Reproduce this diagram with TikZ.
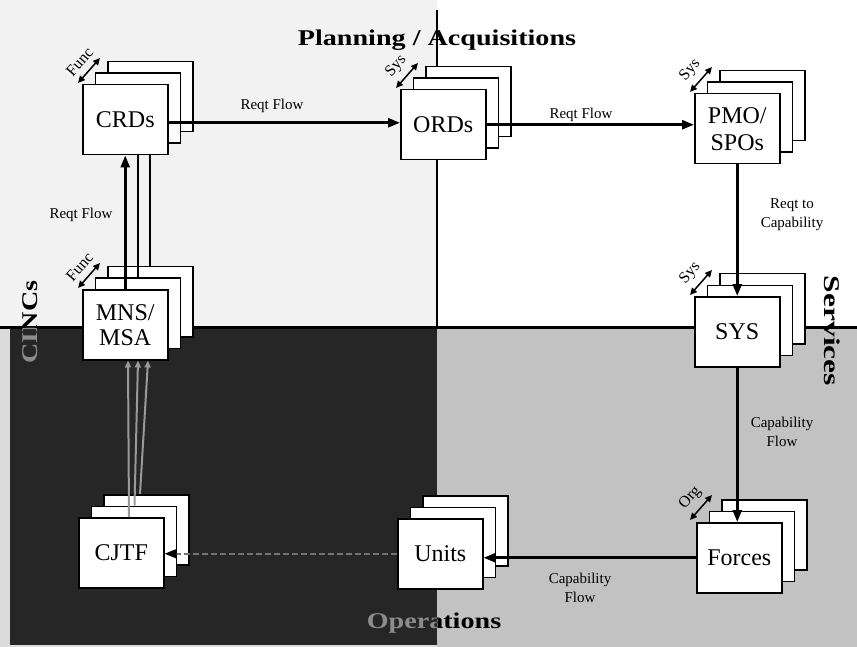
\documentclass[tikz,border=0pt]{standalone}
\usepackage{fontspec}
\setmainfont{Liberation Serif}
\usepackage{graphicx}
\usetikzlibrary{arrows.meta,calc}
\tikzset{
  sbox/.style={draw=black, fill=white, line width=1.5pt, minimum width=85pt, minimum height=70pt, inner sep=0pt, anchor=north west, align=center},
  boxtext/.style={font=\fontsize{24}{29}\selectfont},
  flow/.style={line width=2.6pt, -{Triangle[length=12pt,width=9pt]}},
  link/.style={line width=2pt},
  dbl/.style={line width=1.5pt, {Triangle[length=7pt,width=6.5pt]}-{Triangle[length=7pt,width=6.5pt]}},
  lab/.style={font=\fontsize{15}{19}\selectfont, align=center, inner sep=1pt},
  slab/.style={font=\fontsize{16}{19}\selectfont, inner sep=0.5pt},
  ttl/.style={font=\bfseries\fontsize{22.5}{26}\selectfont, inner sep=0pt},
}
\newcommand\stackednode[4]{%
  \node[sbox] (#1b) at (#2+25,#3-23) {};
  \node[sbox] (#1m) at (#2+12.5,#3-11.5) {};
  \node[sbox,boxtext] (#1) at (#2,#3) {#4};}
\begin{document}
\begin{tikzpicture}[x=1pt,y=-1pt]
\useasboundingbox (0,0) rectangle (857,647);
% quadrants
\fill[black!5] (0,0) rectangle (437,327);
\fill[white] (437,0) rectangle (857,327);
\fill[black!14] (0,327) rectangle (10,647);
\fill[black!85] (10,327) rectangle (437,645);
\fill[black!14] (10,645) rectangle (437,647);
\fill[black!24] (437,327) rectangle (857,647);
\draw[line width=2pt] (437,10) -- (437,327);
\draw[line width=3pt] (0,327) -- (857,327);

% titles
\node[ttl] (tplan) at (437,40) {\scalebox{1.25}[1]{Planning / Acquisitions}};
\node[ttl, rotate=-90] (tserv) at (832,331) {\scalebox{1.4}[1]{Services}};
\begin{scope}
  \clip (0,327) rectangle (437,647);
  \node[ttl, text=black!45] (topsa) at (434,623) {\scalebox{1.25}[1]{Operations}};
  \node[ttl, text=black!45, rotate=90] (tcincsa) at (30,322) {\scalebox{1.25}[1]{CINCs}};
\end{scope}
\begin{scope}
  \clip (437,327) rectangle (857,647);
  \node[ttl] (topsb) at (434,623) {\scalebox{1.25}[1]{Operations}};
\end{scope}
\begin{scope}
  \clip (0,0) rectangle (437,327);
  \node[ttl, rotate=90] (tcincsb) at (30,322) {\scalebox{1.25}[1]{CINCs}};
\end{scope}

% stacked boxes
\stackednode{CRDs}{82}{84}{CRDs}
\stackednode{ORDs}{400}{89}{ORDs}
\stackednode{PMO}{694}{93}{PMO/\\[-2pt]SPOs}
\stackednode{SYS}{694}{296}{SYS}
\stackednode{MNS}{82}{289}{MNS/\\[-4pt]MSA}
\stackednode{CJTF}{78}{517}{CJTF}
\stackednode{Units}{397}{518}{Units}
\stackednode{Forces}{696}{522}{Forces}

% flows
\draw[flow] ([yshift=-3pt]CRDs.east) -- ([yshift=-3pt]CRDs.east -| ORDs.west);
\draw[flow] (ORDs.east) -- (ORDs.east -| PMO.west);
\draw[flow] (PMO.south) -- (SYS.north);
\draw[flow] (SYS.south) -- (SYS.south |- Forces.north);
\draw[flow] (Forces.west) -- (Forces.west -| Units.east);
\draw[line width=2pt, black!55, dash pattern=on 6pt off 3pt, -{Triangle[length=12pt,width=9pt,color=black]}] (Units.west) -- (Units.west -| CJTF.east);

% MNS -> CRDs
\draw[flow] (MNS.north) -- (MNS.north |- CRDs.south);
\draw[link] (MNSm.north) -- (MNSm.north |- CRDs.south);
\draw[link] (MNSb.north) -- (MNSb.north |- CRDs.south);

% CJTF -> MNS
\draw[line width=2pt, black!40, -{Triangle[length=7pt,width=6pt]}] ($(CJTF.north west)+(51,0)$) -- ($(MNS.south west)+(46,0)$);
\draw[line width=2pt, black!40, -{Triangle[length=7pt,width=6pt]}] ($(CJTFm.north west)+(44,0)$) -- ($(MNS.south west)+(56,0)$);
\draw[line width=2pt, black!40, -{Triangle[length=7pt,width=6pt]}] ($(CJTFb.north west)+(37,0)$) -- ($(MNS.south west)+(66,0)$);

% double arrows
\draw[dbl] ($(CRDs.north west)+(-4,-1)$) -- ($(CRDs.north west)+(18,-26)$) node[midway, sloped, above=6pt, slab] (lfunc1) {Func};
\draw[dbl] ($(ORDs.north west)+(-4,-1)$) -- ($(ORDs.north west)+(18,-26)$) node[midway, sloped, above=6pt, slab] (lsys1) {Sys};
\draw[dbl] ($(PMO.north west)+(-4,-1)$) -- ($(PMO.north west)+(18,-26)$) node[midway, sloped, above=6pt, slab] (lsys2) {Sys};
\draw[dbl] ($(MNS.north west)+(-4,-1)$) -- ($(MNS.north west)+(18,-26)$) node[midway, sloped, above=6pt, slab] (lfunc2) {Func};
\draw[dbl] ($(SYS.north west)+(-4,-1)$) -- ($(SYS.north west)+(18,-26)$) node[midway, sloped, above=6pt, slab] (lsys3) {Sys};
\draw[dbl] ($(Forces.north west)+(-6,-2)$) -- ($(Forces.north west)+(16,-27)$) node[midway, sloped, above=6pt, slab] (lorg) {Org};

% labels
\node[lab] (l1) at (272,106) {Reqt Flow};
\node[lab] (l2) at (581,115) {Reqt Flow};
\node[lab] (l3) at (792,215) {Reqt to\\Capability};
\node[lab] (l4) at (81,215) {Reqt Flow};
\node[lab] (l5) at (782,432) {Capability\\Flow};
\node[lab] (l6) at (580,588) {Capability\\Flow};
\end{tikzpicture}
\end{document}
